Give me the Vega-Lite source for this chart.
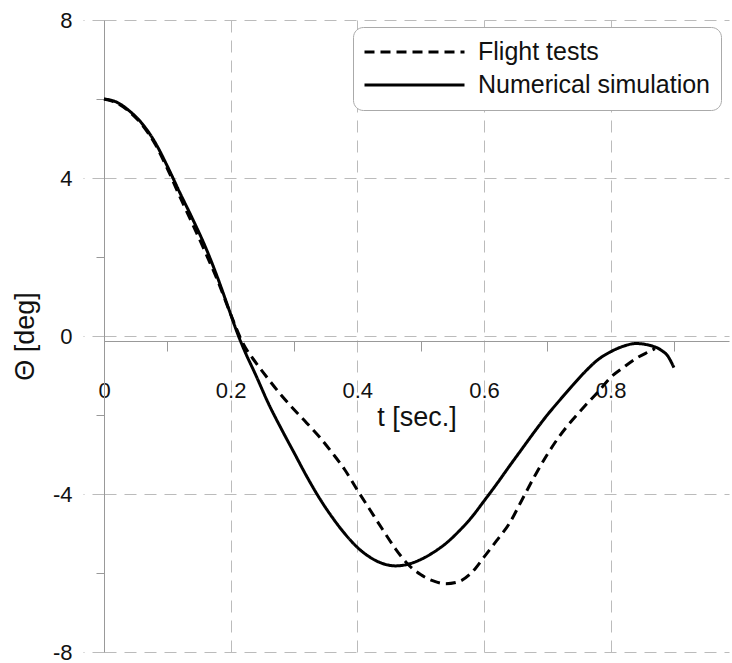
{
  "$schema": "https://vega.github.io/schema/vega-lite/v6.json",
  "width": 625,
  "height": 632,
  "autosize": {"type": "none"},
  "padding": {"left": 104, "top": 20, "right": 3, "bottom": 11},
  "background": "white",
  "config": {
    "view": {"stroke": null},
    "font": "Liberation Sans",
    "axis": {"labelFont": "Liberation Sans", "titleFont": "Liberation Sans", "labelColor": "#111", "titleColor": "#111", "titleFontWeight": "normal"}
  },
  "data": {
    "values": [
      {"t": 0.00, "theta": 6.00, "series": "Flight tests"},
      {"t": 0.02, "theta": 5.90, "series": "Flight tests"},
      {"t": 0.04, "theta": 5.68, "series": "Flight tests"},
      {"t": 0.06, "theta": 5.35, "series": "Flight tests"},
      {"t": 0.08, "theta": 4.88, "series": "Flight tests"},
      {"t": 0.10, "theta": 4.24, "series": "Flight tests"},
      {"t": 0.12, "theta": 3.52, "series": "Flight tests"},
      {"t": 0.14, "theta": 2.83, "series": "Flight tests"},
      {"t": 0.16, "theta": 2.12, "series": "Flight tests"},
      {"t": 0.18, "theta": 1.38, "series": "Flight tests"},
      {"t": 0.20, "theta": 0.55, "series": "Flight tests"},
      {"t": 0.22, "theta": -0.20, "series": "Flight tests"},
      {"t": 0.24, "theta": -0.68, "series": "Flight tests"},
      {"t": 0.26, "theta": -1.10, "series": "Flight tests"},
      {"t": 0.28, "theta": -1.50, "series": "Flight tests"},
      {"t": 0.30, "theta": -1.86, "series": "Flight tests"},
      {"t": 0.32, "theta": -2.20, "series": "Flight tests"},
      {"t": 0.34, "theta": -2.55, "series": "Flight tests"},
      {"t": 0.36, "theta": -2.95, "series": "Flight tests"},
      {"t": 0.38, "theta": -3.38, "series": "Flight tests"},
      {"t": 0.40, "theta": -3.90, "series": "Flight tests"},
      {"t": 0.42, "theta": -4.40, "series": "Flight tests"},
      {"t": 0.44, "theta": -4.90, "series": "Flight tests"},
      {"t": 0.46, "theta": -5.38, "series": "Flight tests"},
      {"t": 0.48, "theta": -5.78, "series": "Flight tests"},
      {"t": 0.50, "theta": -6.04, "series": "Flight tests"},
      {"t": 0.52, "theta": -6.20, "series": "Flight tests"},
      {"t": 0.54, "theta": -6.27, "series": "Flight tests"},
      {"t": 0.56, "theta": -6.22, "series": "Flight tests"},
      {"t": 0.58, "theta": -6.00, "series": "Flight tests"},
      {"t": 0.60, "theta": -5.60, "series": "Flight tests"},
      {"t": 0.62, "theta": -5.18, "series": "Flight tests"},
      {"t": 0.64, "theta": -4.75, "series": "Flight tests"},
      {"t": 0.66, "theta": -4.15, "series": "Flight tests"},
      {"t": 0.68, "theta": -3.55, "series": "Flight tests"},
      {"t": 0.70, "theta": -3.00, "series": "Flight tests"},
      {"t": 0.72, "theta": -2.52, "series": "Flight tests"},
      {"t": 0.74, "theta": -2.12, "series": "Flight tests"},
      {"t": 0.76, "theta": -1.76, "series": "Flight tests"},
      {"t": 0.78, "theta": -1.42, "series": "Flight tests"},
      {"t": 0.80, "theta": -1.05, "series": "Flight tests"},
      {"t": 0.82, "theta": -0.80, "series": "Flight tests"},
      {"t": 0.84, "theta": -0.57, "series": "Flight tests"},
      {"t": 0.86, "theta": -0.40, "series": "Flight tests"},
      {"t": 0.87, "theta": -0.32, "series": "Flight tests"},
      {"t": 0.00, "theta": 6.00, "series": "Numerical simulation"},
      {"t": 0.02, "theta": 5.92, "series": "Numerical simulation"},
      {"t": 0.04, "theta": 5.70, "series": "Numerical simulation"},
      {"t": 0.06, "theta": 5.38, "series": "Numerical simulation"},
      {"t": 0.08, "theta": 4.92, "series": "Numerical simulation"},
      {"t": 0.10, "theta": 4.30, "series": "Numerical simulation"},
      {"t": 0.12, "theta": 3.62, "series": "Numerical simulation"},
      {"t": 0.14, "theta": 2.96, "series": "Numerical simulation"},
      {"t": 0.16, "theta": 2.26, "series": "Numerical simulation"},
      {"t": 0.18, "theta": 1.45, "series": "Numerical simulation"},
      {"t": 0.20, "theta": 0.55, "series": "Numerical simulation"},
      {"t": 0.21, "theta": 0.10, "series": "Numerical simulation"},
      {"t": 0.22, "theta": -0.30, "series": "Numerical simulation"},
      {"t": 0.24, "theta": -1.00, "series": "Numerical simulation"},
      {"t": 0.26, "theta": -1.72, "series": "Numerical simulation"},
      {"t": 0.28, "theta": -2.35, "series": "Numerical simulation"},
      {"t": 0.30, "theta": -2.95, "series": "Numerical simulation"},
      {"t": 0.32, "theta": -3.55, "series": "Numerical simulation"},
      {"t": 0.34, "theta": -4.10, "series": "Numerical simulation"},
      {"t": 0.36, "theta": -4.58, "series": "Numerical simulation"},
      {"t": 0.38, "theta": -5.00, "series": "Numerical simulation"},
      {"t": 0.40, "theta": -5.35, "series": "Numerical simulation"},
      {"t": 0.42, "theta": -5.60, "series": "Numerical simulation"},
      {"t": 0.44, "theta": -5.76, "series": "Numerical simulation"},
      {"t": 0.46, "theta": -5.82, "series": "Numerical simulation"},
      {"t": 0.48, "theta": -5.78, "series": "Numerical simulation"},
      {"t": 0.50, "theta": -5.66, "series": "Numerical simulation"},
      {"t": 0.52, "theta": -5.48, "series": "Numerical simulation"},
      {"t": 0.54, "theta": -5.25, "series": "Numerical simulation"},
      {"t": 0.56, "theta": -4.95, "series": "Numerical simulation"},
      {"t": 0.58, "theta": -4.60, "series": "Numerical simulation"},
      {"t": 0.60, "theta": -4.18, "series": "Numerical simulation"},
      {"t": 0.62, "theta": -3.75, "series": "Numerical simulation"},
      {"t": 0.64, "theta": -3.30, "series": "Numerical simulation"},
      {"t": 0.66, "theta": -2.86, "series": "Numerical simulation"},
      {"t": 0.68, "theta": -2.42, "series": "Numerical simulation"},
      {"t": 0.70, "theta": -2.00, "series": "Numerical simulation"},
      {"t": 0.72, "theta": -1.62, "series": "Numerical simulation"},
      {"t": 0.74, "theta": -1.25, "series": "Numerical simulation"},
      {"t": 0.76, "theta": -0.90, "series": "Numerical simulation"},
      {"t": 0.78, "theta": -0.60, "series": "Numerical simulation"},
      {"t": 0.80, "theta": -0.40, "series": "Numerical simulation"},
      {"t": 0.82, "theta": -0.26, "series": "Numerical simulation"},
      {"t": 0.84, "theta": -0.19, "series": "Numerical simulation"},
      {"t": 0.86, "theta": -0.23, "series": "Numerical simulation"},
      {"t": 0.88, "theta": -0.36, "series": "Numerical simulation"},
      {"t": 0.89, "theta": -0.50, "series": "Numerical simulation"},
      {"t": 0.90, "theta": -0.80, "series": "Numerical simulation"}
    ]
  },
  "mark": {"type": "line", "interpolate": "monotone", "strokeWidth": 3, "color": "black"},
  "encoding": {
    "x": {
      "field": "t", "type": "quantitative",
      "scale": {"domain": [0, 0.987], "nice": false, "zero": false},
      "axis": {
        "title": "t [sec.]",
        "titleFontSize": 27,
        "titlePadding": 3,
        "offset": -311,
        "values": [0, 0.1, 0.2, 0.3, 0.4, 0.5, 0.6, 0.7, 0.8, 0.9],
        "labelExpr": "round(datum.value * 10) % 2 === 0 ? toString(datum.value) : ''",
        "labelFontSize": 22,
        "labelPadding": 29,
        "labelFlush": false,
        "labelOverlap": false,
        "tickSize": 10,
        "tickColor": "#999",
        "tickOpacity": {"condition": {"test": "round(datum.value * 10) % 2 === 1", "value": 1}, "value": 0},
        "domainColor": "#999",
        "grid": true,
        "gridColor": "#bbb",
        "gridDash": [12, 8],
        "gridOpacity": {"condition": {"test": "round(datum.value * 10) % 2 === 0", "value": 1}, "value": 0}
      }
    },
    "y": {
      "field": "theta", "type": "quantitative",
      "scale": {"domain": [-8, 8], "nice": false},
      "axis": {
        "title": "Θ [deg]",
        "titleFontSize": 27,
        "titlePadding": 13,
        "values": [-8, -6, -4, -2, 0, 2, 4, 6, 8],
        "labelExpr": "datum.value % 4 === 0 ? toString(datum.value) : ''",
        "labelFontSize": 22,
        "labelPadding": 11,
        "labelOverlap": false,
        "tickSize": 21,
        "tickColor": {"condition": {"test": "datum.value % 4 === 0", "value": "#bbb"}, "value": "#999"},
        "tickDash": {"condition": {"test": "datum.value % 4 === 0", "value": [12, 8]}, "value": [8, 40]},
        "domainColor": "#999",
        "grid": true,
        "gridColor": "#bbb",
        "gridDash": [12, 8],
        "gridOpacity": {"condition": {"test": "datum.value % 4 === 0", "value": 1}, "value": 0}
      }
    },
    "strokeDash": {
      "field": "series", "type": "nominal",
      "scale": {"domain": ["Flight tests", "Numerical simulation"], "range": [[10, 6], [1, 0]]},
      "legend": {
        "orient": "none",
        "legendX": 249,
        "legendY": 7,
        "title": null,
        "labelFontSize": 25,
        "labelFont": "Liberation Sans",
        "labelColor": "#111",
        "labelLimit": 400,
        "labelOffset": 12,
        "symbolType": "stroke",
        "symbolSize": 10000,
        "symbolStrokeWidth": 3,
        "symbolStrokeColor": "black",
        "symbolDash": {"expr": "null"},
        "clipHeight": 30,
        "strokeColor": "#aaa",
        "fillColor": "white",
        "cornerRadius": 10,
        "padding": 10,
        "rowPadding": 3
      }
    }
  }
}
